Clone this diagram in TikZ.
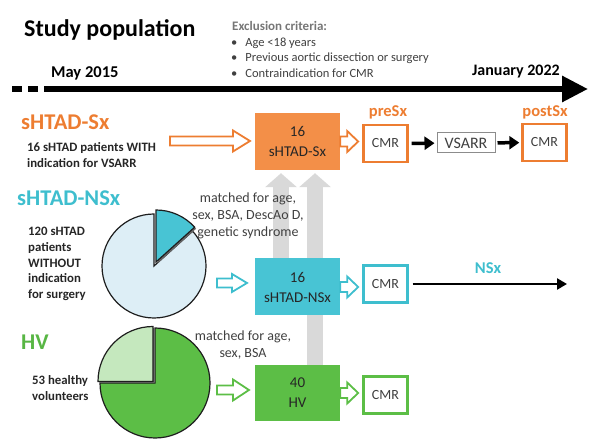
\documentclass[tikz,border=0pt]{standalone}
\usepackage{fontspec}
\setmainfont{Carlito}
\usetikzlibrary{arrows.meta,backgrounds,calc}
\definecolor{orng}{RGB}{237,125,49}
\definecolor{orngbox}{RGB}{243,143,72}
\definecolor{teal}{RGB}{62,190,206}
\definecolor{tealbox}{RGB}{72,196,212}
\definecolor{ltblue}{RGB}{221,238,246}
\definecolor{grn}{RGB}{92,190,70}
\definecolor{grnlab}{RGB}{88,182,68}
\definecolor{ltgrn}{RGB}{197,232,190}
\definecolor{arrgray}{RGB}{217,217,217}
\definecolor{exgray}{RGB}{118,118,118}
\definecolor{dkgray}{RGB}{64,64,64}
\definecolor{pieline}{RGB}{30,30,30}
\tikzset{
  grpbox/.style={minimum width=85pt, minimum height=57pt, align=center, inner sep=0pt,
    font=\fontsize{15}{20}\selectfont, text=black!85},
  cmrbox/.style={draw=#1, line width=2.4pt, fill=white, minimum width=44pt, minimum height=37pt,
    inner sep=0pt, font=\fontsize{14}{16}\selectfont, text=dkgray},
  grplabel/.style={anchor=west, font=\fontsize{22.5}{26}\bfseries, text=#1, inner sep=0pt},
  desc/.style={anchor=west, align=left, font=\fontsize{12.8}{15.75}\bfseries, text=black!85, inner sep=0pt},
  phaselab/.style={font=\fontsize{16.5}{18}\bfseries, text=#1, inner sep=0pt},
  matched/.style={align=center, font=\fontsize{14}{17}\selectfont, text=dkgray, inner sep=0pt},
  blkarrow/.style={line width=3.5pt, -{Triangle[length=10pt,width=13pt]}},
  grayarrow/.style={draw=arrgray, line width=16pt, -{Triangle[length=14pt,width=31pt]}},
  bullet/.style={anchor=west, font=\fontsize{12.5}{14}\selectfont, text=dkgray, inner sep=0pt},
  pics/harrow/.style n args={5}{code={
    \draw[line width=1.8pt, draw=#5, fill=white, line join=miter]
      (0,-#3) -- ({#1-#2},-#3) -- ({#1-#2},-#4) -- (#1,0) -- ({#1-#2},#4) -- ({#1-#2},#3) -- (0,#3) -- cycle;
  }}
}
\begin{document}
\begin{tikzpicture}[x=1pt,y=1pt]
\useasboundingbox (0,0) rectangle (595,445);

% header
\node[anchor=west, inner sep=0pt, font=\fontsize{24}{28}\bfseries] (title) at (24,415) {Study population};
\node[anchor=west, inner sep=0pt, font=\fontsize{13}{15}\bfseries, text=exgray] (excl) at (232,419) {Exclusion criteria:};
\node[bullet] (b1) at (231,402) {\textbullet\hspace{8pt}Age <18 years};
\node[bullet] (b2) at (231,387) {\textbullet\hspace{8pt}Previous aortic dissection or surgery};
\node[bullet] (b3) at (231,372) {\textbullet\hspace{8pt}Contraindication for CMR};
\node[anchor=west, inner sep=0pt, font=\fontsize{16.5}{18}\bfseries] (may) at (51,372) {May 2015};
\node[anchor=east, inner sep=0pt, font=\fontsize{16}{18}\bfseries] (jan) at (560,373) {January 2022};

% timeline
\coordinate (t0) at (12,356);
\coordinate (t1) at (40,356);
\coordinate (t2) at (44,356);
\coordinate (t3) at (588,356);
\draw[line width=6pt, dash pattern=on 10pt off 6pt] (t0) -- (t1);
\draw[line width=6pt, -{Triangle[length=26pt,width=25pt]}] (t2) -- (t3);

% sHTAD-Sx row
\node[grplabel=orng] (sxlab) at (21,323) {sHTAD-Sx};
\node[desc] (sxdesc) at (27,290) {16 sHTAD patients WITH\\indication for VSARR};
\coordinate (sxa) at (170,304);
\pic at (sxa) {harrow={80}{17}{4.5}{10.5}{orng}};
\node[grpbox, fill=orngbox] (sx) at (297.5,303.5) {16\\sHTAD-Sx};
\pic at (sx.east) {harrow={18}{11}{5}{10.5}{orng}};
\node[cmrbox=orng] (pre) at (385.5,301.5) {CMR};
\node[phaselab=orng] (prelab) at (388,333) {preSx};
\node[draw=black!45, line width=1pt, minimum width=58pt, minimum height=20pt, inner sep=0pt,
  font=\fontsize{16}{18}\selectfont, text=dkgray] (vs) at (466,302) {VSARR};
\node[cmrbox=orng] (post) at (544.5,302.5) {CMR};
\node[phaselab=orng] (postlab) at (545,333) {postSx};
\draw[blkarrow, shorten <=3pt, shorten >=2pt] (pre) -- (vs);
\draw[blkarrow, shorten <=2pt, shorten >=2pt] (vs) -- (post);

% sHTAD-NSx row
\node[grplabel=teal] (nsxlab) at (17,247) {sHTAD-NSx};
\node[desc] (nsxdesc) at (28,181) {120 sHTAD\\patients\\WITHOUT\\indication\\for surgery};
\coordinate (p1) at (154,179);
\fill[ltblue, draw=pieline, line width=1.2pt] (p1) -- ++(90:52) arc[start angle=90, end angle=402, radius=52] -- cycle;
\fill[black!60] ($(p1)+(3.5,2.5)$) -- ++(42:52) arc[start angle=42, end angle=90, radius=52] -- cycle;
\fill[tealbox, draw=pieline, line width=1.2pt] ($(p1)+(2,4)$) -- ++(42:52) arc[start angle=42, end angle=90, radius=52] -- cycle;
\coordinate (nsxa) at (217,162);
\pic at (nsxa) {harrow={30}{15}{4.5}{9}{teal}};
\node[grpbox, fill=tealbox] (nsx) at (297.5,158) {16\\sHTAD-NSx};
\pic at (nsx.east) {harrow={18}{11}{5}{10.5}{teal}};
\node[cmrbox=teal] (nsxcmr) at (385.5,161) {CMR};
\coordinate (nsxend) at (567,161);
\draw[line width=2.5pt, -{Triangle[length=10pt,width=11pt]}, shorten <=4pt] (nsxcmr) -- (nsxend);
\node[phaselab=teal] (nsxl) at (488,177) {NSx};

% HV row
\node[grplabel=grnlab] (hvlab) at (21,103) {HV};
\node[desc] (hvdesc) at (32,57) {53 healthy\\volunteers};
\coordinate (p2) at (155,62);
\fill[grn, draw=pieline, line width=1.2pt] (p2) -- ++(180:55) arc[start angle=180, end angle=450, radius=55] -- cycle;
\fill[black!60] ($(p2)+(-0.5,0)$) -- ++(90:55) arc[start angle=90, end angle=180, radius=55] -- cycle;
\fill[ltgrn, draw=pieline, line width=1.2pt] ($(p2)+(-2,1.5)$) -- ++(90:55) arc[start angle=90, end angle=180, radius=55] -- cycle;
\coordinate (hva) at (217,55);
\pic at (hva) {harrow={32}{16}{4.5}{10.5}{grn}};
\node[grpbox, fill=grn, minimum height=56pt] (hv) at (297.5,52) {40\\HV};
\pic at (hv.east) {harrow={18}{11}{5}{10.5}{grn}};
\node[cmrbox=grn] (hvcmr) at (385.5,50) {CMR};

% matching arrows
\begin{scope}[on background layer]
\draw[grayarrow, shorten >=3pt] ([xshift=-16.5pt]nsx.north) -- ([xshift=-16.5pt]sx.south);
\draw[grayarrow, shorten >=3pt] ([xshift=17.5pt]hv.north) -- ([xshift=17.5pt]sx.south);
\end{scope}
\node[matched] (m1) at (248,229) {matched for age,\\sex, BSA, DescAo D,\\genetic syndrome};
\node[matched] (m2) at (243,100) {matched for age,\\sex, BSA};
\end{tikzpicture}
\end{document}
